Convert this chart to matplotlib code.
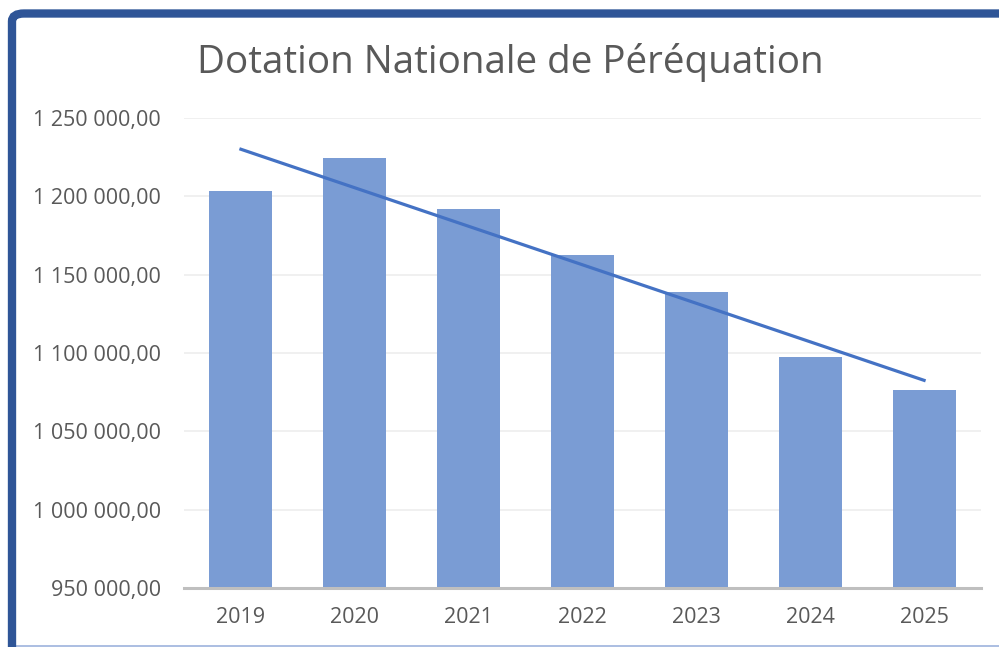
import matplotlib
matplotlib.use("Agg")
import matplotlib.pyplot as plt
import numpy as np
from matplotlib.patches import FancyBboxPatch
from matplotlib.lines import Line2D

years = ["2019", "2020", "2021", "2022", "2023", "2024", "2025"]
values = [1203300, 1224300, 1191800, 1162400, 1138800, 1097300, 1076200]
yticks = [950000, 1000000, 1050000, 1100000, 1150000, 1200000, 1250000]

plt.rcParams['font.family'] = ['Open Sans', 'DejaVu Sans']

W, H = 999, 647
fig = plt.figure(figsize=(W/100, H/100), dpi=100)
fig.patch.set_facecolor("white")

# frame
frame = FancyBboxPatch((12/W, -0.1), 1.2, (H - 13.5)/H + 0.1,
                       boxstyle="round,pad=0,rounding_size=0.012",
                       transform=fig.transFigure, facecolor="none",
                       edgecolor="#2F5597", linewidth=6, zorder=10)
fig.patches.append(frame)
fig.lines.append(Line2D([16/W, 1], [1 - 645.5/H, 1 - 645.5/H], transform=fig.transFigure,
                        color="#9DB3DD", linewidth=1.2))

ax = fig.add_axes([184/W, 1 - 588/H, (981-184)/W, (588-118)/H])
x = np.arange(len(years))
ax.bar(x, values, width=0.553, color="#7A9CD4", zorder=2)
coef = np.polyfit(x, values, 1)
ax.plot(x, np.polyval(coef, x), color="#4472C4", linewidth=2.3, zorder=3)

ax.set_xlim(-0.5, len(years) - 0.5)
ax.set_ylim(950000, 1250000)
ax.set_yticks(yticks)
ax.set_yticklabels([f"{v:,}".replace(",", " ") + ",00" for v in yticks])
ax.set_xticks(x)
ax.set_xticklabels(years)
ax.yaxis.grid(True, color="#EEEEEE", linewidth=1.2, zorder=0)
ax.set_axisbelow(True)
for s in ["top", "right", "left"]:
    ax.spines[s].set_visible(False)
ax.spines["bottom"].set_color("#BFBFBF")
ax.spines["bottom"].set_linewidth(2.2)
ax.spines["bottom"].set_zorder(4)
ax.tick_params(axis="both", length=0, labelsize=15.5, colors="#595959")
ax.tick_params(axis="y", pad=16.5)
ax.tick_params(axis="x", pad=14)

fig.text(510/W, 1 - 62/H, "Dotation Nationale de Péréquation", ha="center", va="center",
         fontsize=27.8, color="#595959")

fig.savefig("out.png", dpi=100)
